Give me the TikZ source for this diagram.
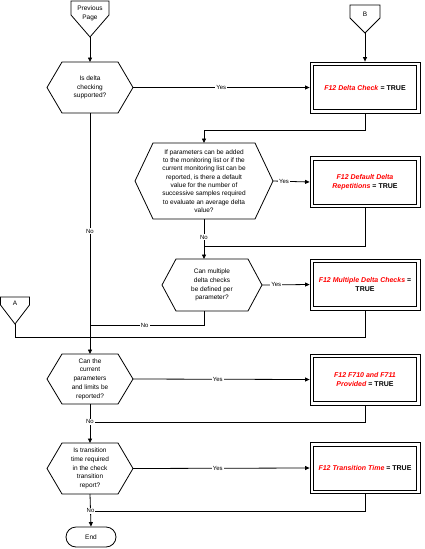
\documentclass[tikz,border=0pt]{standalone}
\usepackage{fontspec}
\setmainfont{Liberation Sans}
\usetikzlibrary{arrows.meta,shapes.misc,calc}
\newcommand{\redf}[1]{\textcolor{red}{\textit{#1}}}
\newcommand{\hexdraw}[2]{\draw (#1.west) -- ([xshift=#2]#1.north west) -- ([xshift=-#2]#1.north east) -- (#1.east) -- ([xshift=-#2]#1.south east) -- ([xshift=#2]#1.south west) -- cycle;}
\newcommand{\innerbox}[1]{\draw ([xshift=4pt,yshift=-4pt]#1.north west) rectangle ([xshift=-4pt,yshift=4pt]#1.south east);}
\begin{document}
\begin{tikzpicture}[x=1pt,y=-1pt,line width=0.8pt,
  every node/.style={font=\fontsize{6.5}{8.7}\selectfont},
  hexnode/.style={align=center,inner sep=0pt,outer sep=0pt},
  offnode/.style={align=center,inner sep=0pt,outer sep=0pt},
  arr/.style={-{Triangle[length=4.5pt,width=4pt]}},
  resbox/.style={draw,align=center,inner sep=0pt,
    minimum width=110pt,minimum height=51pt,outer sep=0.4pt,
    font=\fontsize{7}{9}\selectfont\bfseries},
  lab/.style={fill=white,inner sep=1pt,font=\fontsize{6}{7}\selectfont},
  endnode/.style={draw,rounded rectangle,minimum width=50pt,minimum height=20pt,inner sep=0pt}
]
\useasboundingbox (0,0) rectangle (424,549);

% off-page connectors
\node[offnode,minimum width=38pt,minimum height=24pt] (pp) at (90,13) {Previous\\Page};
\coordinate (ppt) at (90,37);
\draw (pp.north west) -- (pp.north east) -- ($(pp.north east)+(0,14)$) -- (ppt) -- ($(pp.north west)+(0,14)$) -- cycle;

\node[offnode,minimum width=30pt,minimum height=18pt] (cb) at (365,14) {B};
\coordinate (cbt) at (365,33);
\draw (cb.north west) -- (cb.north east) -- ($(cb.north east)+(0,13)$) -- (cbt) -- ($(cb.north west)+(0,13)$) -- cycle;

\node[offnode,minimum width=29pt,minimum height=12pt] (ca) at (15,303) {A};
\coordinate (cat) at (15,324);
\draw (ca.north west) -- (ca.north east) -- ($(ca.north east)+(0,8)$) -- (cat) -- ($(ca.north west)+(0,8)$) -- cycle;

% decisions
\node[hexnode,minimum width=86pt,minimum height=51pt] (h1) at (90,87.5) {Is delta\\checking\\supported?};
\hexdraw{h1}{15}
\node[hexnode,minimum width=138pt,minimum height=76pt,font=\fontsize{6.5}{8.3}\selectfont] (h2) at (204,181)
 {If parameters can be added\\to the monitoring list or if the\\current monitoring list can be\\reported, is there a default\\value for the number of\\successive samples required\\to evaluate an average delta\\value?};
\hexdraw{h2}{18}
\node[hexnode,minimum width=100pt,minimum height=52pt] (h3) at (212,285) {Can multiple\\delta checks\\be defined per\\parameter?};
\hexdraw{h3}{14}
\node[hexnode,minimum width=86pt,minimum height=50pt] (h4) at (90,379) {Can the\\current\\parameters\\and limits be\\reported?};
\hexdraw{h4}{15}
\node[hexnode,minimum width=86pt,minimum height=51pt] (h5) at (90,468.5) {Is transition\\time required\\in the check\\transition\\report?};
\hexdraw{h5}{15}

% results
\node[resbox] (b1) at (365,87.5) {\redf{F12 Delta Check} = TRUE};
\node[resbox] (b2) at (365,182) {\redf{F12 Default Delta}\\\redf{Repetitions} = TRUE};
\node[resbox] (b3) at (365,284.5) {\redf{F12 Multiple Delta Checks} =\\TRUE};
\node[resbox] (b4) at (365,379.5) {\redf{F12 F710 and F711}\\\redf{Provided} = TRUE};
\node[resbox] (b5) at (365,468) {\redf{F12 Transition Time} = TRUE};
\foreach \b in {b1,b2,b3,b4,b5}{\innerbox{\b}}

\node[endnode] (e) at (91,537) {End};

% junction coordinates
\coordinate (j1) at (204,130);
\coordinate (j2) at (204,246);
\coordinate (j3) at (90,325);
\coordinate (ja) at (15,337);
\coordinate (j4) at (90,422);
\coordinate (j5) at (90,511);

% return lines
\draw (b2.south) |- (j2);
\draw (b3.south) |- (ja) -- (cat);
\draw (b4.south) |- (j4);
\draw (b5.south) |- (j5);

% flow
\draw[arr] (ppt) -- (h1.north);
\draw[arr] (cbt) -- (b1.north);
\draw[arr] (h1.east) -- node[lab,pos=0.5]{Yes} (b1.west);
\draw[arr] (b1.south) |- (j1) -- (h2.north);
\draw[arr] (h2.east) -- node[lab,pos=0.3]{Yes} (b2.west);
\draw[arr] (h2.south) -- node[lab,pos=0.45]{No} (h2.south |- h3.north);
\draw[arr] (h3.east) -- node[lab,pos=0.3]{Yes} (b3.west);
\draw (h2.south |- h3.south) |- node[lab,pos=0.76]{No} (j3);
\draw[arr] (h1.south) -- node[lab,pos=0.49]{No} (h4.north);
\draw[arr] (h4.east) -- node[lab,pos=0.48]{Yes} (b4.west);
\draw[arr] (h4.south) -- node[lab,pos=0.46]{No} (h5.north);
\draw[arr] (h5.east) -- node[lab,pos=0.48]{Yes} (b5.west);
\draw[arr] (h5.south) -- node[lab,pos=0.52]{No} (e.north);
\end{tikzpicture}
\end{document}
